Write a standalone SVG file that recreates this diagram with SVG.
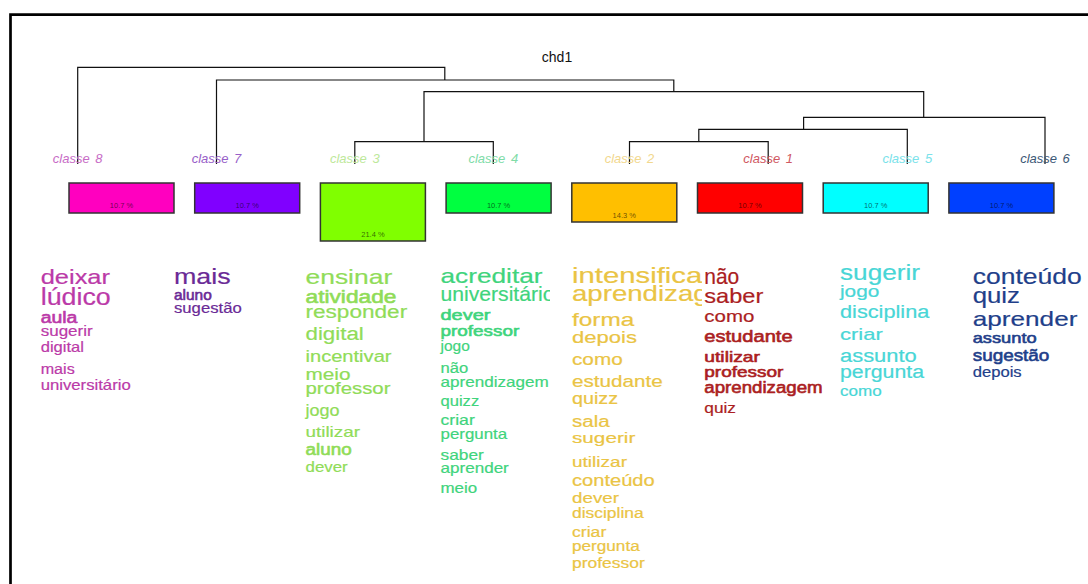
<svg xmlns="http://www.w3.org/2000/svg" width="1088" height="584" viewBox="0 0 1088 584">
<style>
text{font-family:"Liberation Sans",Arial,Helvetica,sans-serif}
.lbl{font-size:13px;font-style:italic;text-anchor:middle;word-spacing:2px}
.pct{font-size:7.5px;text-anchor:middle;fill:#000;fill-opacity:.6}
.box{stroke:#333;stroke-width:1.5}
.dl{fill:none;stroke:#111;stroke-width:1.2}
.wl text{stroke-width:.2px;stroke-linejoin:round}
.wl text.sb{stroke-width:.6px}
.w8{fill:#bb3aa8;stroke:#bb3aa8}.w7{fill:#6a2a96;stroke:#6a2a96}.w3{fill:#90dc58;stroke:#90dc58}.w4{fill:#3fd47c;stroke:#3fd47c}
.w2{fill:#eac444;stroke:#eac444}.w1{fill:#ab1e22;stroke:#ab1e22}.w5{fill:#48d6d6;stroke:#48d6d6}.w6{fill:#1f3f8a;stroke:#1f3f8a}
</style>
<defs>
<clipPath id="clip4"><rect x="0" y="0" width="550" height="584"/></clipPath>
<clipPath id="clip2"><rect x="0" y="0" width="702" height="584"/></clipPath>
</defs>
<rect width="1088" height="584" fill="#fff"/>
<path d="M10.5 584V14.7H1088" fill="none" stroke="#000" stroke-width="2.7"/>
<text x="557" y="61.5" font-size="14" text-anchor="middle" fill="#111">chd1</text>

<g id="dendrogram" class="dl">
<path d="M77.7 164V67.3H444.8V80"/>
<path d="M216.5 164V80H673.8V91.7"/>
<path d="M424 141.7V91.7H923.7V117.3"/>
<path d="M354.8 164V141.7H493.3V164"/>
<path d="M803.6 129.3V117.3H1045V164"/>
<path d="M698.8 141.7V129.3H907.3V164"/>
<path d="M629.5 164V141.7H768.2V164"/>
</g>

<g id="classe-8">
<text class="lbl" x="77.7" y="162.5" fill="#c86cc6">classe 8</text>
<rect class="box" x="69" y="183" width="105" height="30" fill="#FF00BF"/>
<text class="pct" x="121.5" y="208">10.7 %</text>
<g class="wl w8">
<text x="40.7" y="284.3" font-size="21" textLength="69.3" lengthAdjust="spacingAndGlyphs">deixar</text>
<text x="40.7" y="305" font-size="23" textLength="70" lengthAdjust="spacingAndGlyphs">lúdico</text>
<text x="40.7" y="322.7" font-size="16" class="sb" textLength="36.7" lengthAdjust="spacingAndGlyphs">aula</text>
<text x="40.7" y="336" font-size="15" textLength="52" lengthAdjust="spacingAndGlyphs">sugerir</text>
<text x="40.7" y="351.5" font-size="15" textLength="43.3" lengthAdjust="spacingAndGlyphs">digital</text>
<text x="40.7" y="373.5" font-size="14" textLength="34" lengthAdjust="spacingAndGlyphs">mais</text>
<text x="40.7" y="389.5" font-size="15" textLength="90" lengthAdjust="spacingAndGlyphs">universitário</text>
</g>
</g>

<g id="classe-7">
<text class="lbl" x="216.5" y="162.5" fill="#9860c8">classe 7</text>
<rect class="box" x="194.7" y="183" width="105" height="30" fill="#8000FF"/>
<text class="pct" x="247.2" y="208">10.7 %</text>
<g class="wl w7">
<text x="174" y="284.3" font-size="22" textLength="56.7" lengthAdjust="spacingAndGlyphs">mais</text>
<text x="174" y="300" font-size="15" class="sb" textLength="37.7" lengthAdjust="spacingAndGlyphs">aluno</text>
<text x="174" y="312.5" font-size="15" textLength="67.7" lengthAdjust="spacingAndGlyphs">sugestão</text>
</g>
</g>

<g id="classe-3">
<text class="lbl" x="354.8" y="162.5" fill="#bde89a">classe 3</text>
<rect class="box" x="320.4" y="183" width="105" height="58" fill="#80FF00"/>
<text class="pct" x="372.9" y="236.5">21.4 %</text>
<g class="wl w3">
<text x="305.5" y="284.3" font-size="21" textLength="86.7" lengthAdjust="spacingAndGlyphs">ensinar</text>
<text x="305.5" y="302.7" font-size="18" class="sb" textLength="91" lengthAdjust="spacingAndGlyphs">atividade</text>
<text x="305.5" y="317.7" font-size="18" textLength="101.7" lengthAdjust="spacingAndGlyphs">responder</text>
<text x="305.5" y="340" font-size="18" textLength="58.3" lengthAdjust="spacingAndGlyphs">digital</text>
<text x="305.5" y="361.7" font-size="16" textLength="86" lengthAdjust="spacingAndGlyphs">incentivar</text>
<text x="305.5" y="380" font-size="16" textLength="45" lengthAdjust="spacingAndGlyphs">meio</text>
<text x="305.5" y="393.5" font-size="16" textLength="85" lengthAdjust="spacingAndGlyphs">professor</text>
<text x="305.5" y="416" font-size="16" textLength="34" lengthAdjust="spacingAndGlyphs">jogo</text>
<text x="305.5" y="437.3" font-size="15" textLength="54.5" lengthAdjust="spacingAndGlyphs">utilizar</text>
<text x="305.5" y="455" font-size="16" class="sb" textLength="46.2" lengthAdjust="spacingAndGlyphs">aluno</text>
<text x="305.5" y="471.7" font-size="14" textLength="42.2" lengthAdjust="spacingAndGlyphs">dever</text>
</g>
</g>

<g id="classe-4">
<text class="lbl" x="493.3" y="162.5" fill="#80dca8">classe 4</text>
<rect class="box" x="446.1" y="183" width="105" height="30" fill="#00FF40"/>
<text class="pct" x="498.6" y="208">10.7 %</text>
<g class="wl w4" clip-path="url(#clip4)">
<text x="440.5" y="283.3" font-size="21" textLength="102" lengthAdjust="spacingAndGlyphs">acreditar</text>
<text x="440.5" y="300.5" font-size="21" textLength="114" lengthAdjust="spacingAndGlyphs">universitário</text>
<text x="440.5" y="320" font-size="15" class="sb" textLength="50" lengthAdjust="spacingAndGlyphs">dever</text>
<text x="440.5" y="336" font-size="15" class="sb" textLength="78.7" lengthAdjust="spacingAndGlyphs">professor</text>
<text x="440.5" y="351" font-size="14" textLength="29.3" lengthAdjust="spacingAndGlyphs">jogo</text>
<text x="440.5" y="373" font-size="14" textLength="27.7" lengthAdjust="spacingAndGlyphs">não</text>
<text x="440.5" y="386.7" font-size="15" textLength="108.3" lengthAdjust="spacingAndGlyphs">aprendizagem</text>
<text x="440.5" y="405.5" font-size="15" textLength="38.7" lengthAdjust="spacingAndGlyphs">quizz</text>
<text x="440.5" y="425" font-size="15" textLength="34.3" lengthAdjust="spacingAndGlyphs">criar</text>
<text x="440.5" y="439.3" font-size="15" textLength="66.7" lengthAdjust="spacingAndGlyphs">pergunta</text>
<text x="440.5" y="460" font-size="15" textLength="43.3" lengthAdjust="spacingAndGlyphs">saber</text>
<text x="440.5" y="473.3" font-size="15" textLength="68.3" lengthAdjust="spacingAndGlyphs">aprender</text>
<text x="440.5" y="493.3" font-size="14" textLength="36.7" lengthAdjust="spacingAndGlyphs">meio</text>
</g>
</g>

<g id="classe-2">
<text class="lbl" x="629.5" y="162.5" fill="#f2d88e">classe 2</text>
<rect class="box" x="571.8" y="183" width="105" height="39" fill="#FFBF00"/>
<text class="pct" x="624.3" y="217.5">14.3 %</text>
<g class="wl w2" clip-path="url(#clip2)">
<text x="572" y="283.3" font-size="22" textLength="140" lengthAdjust="spacingAndGlyphs">intensificar</text>
<text x="572" y="300.5" font-size="22" textLength="175" lengthAdjust="spacingAndGlyphs">aprendizagem</text>
<text x="572" y="326" font-size="19" textLength="62.3" lengthAdjust="spacingAndGlyphs">forma</text>
<text x="572" y="343.3" font-size="17" textLength="65" lengthAdjust="spacingAndGlyphs">depois</text>
<text x="572" y="365" font-size="16" textLength="50.7" lengthAdjust="spacingAndGlyphs">como</text>
<text x="572" y="386.7" font-size="17" textLength="90.7" lengthAdjust="spacingAndGlyphs">estudante</text>
<text x="572" y="404" font-size="16" textLength="46" lengthAdjust="spacingAndGlyphs">quizz</text>
<text x="572" y="426.7" font-size="16" textLength="37.7" lengthAdjust="spacingAndGlyphs">sala</text>
<text x="572" y="443.3" font-size="15" textLength="63.3" lengthAdjust="spacingAndGlyphs">sugerir</text>
<text x="572" y="466.7" font-size="15" textLength="55" lengthAdjust="spacingAndGlyphs">utilizar</text>
<text x="572" y="485.7" font-size="16" textLength="82.7" lengthAdjust="spacingAndGlyphs">conteúdo</text>
<text x="572" y="503.3" font-size="15" textLength="47" lengthAdjust="spacingAndGlyphs">dever</text>
<text x="572" y="518.3" font-size="14" textLength="71.7" lengthAdjust="spacingAndGlyphs">disciplina</text>
<text x="572" y="537.3" font-size="14" textLength="34.3" lengthAdjust="spacingAndGlyphs">criar</text>
<text x="572" y="550.7" font-size="14" textLength="67.7" lengthAdjust="spacingAndGlyphs">pergunta</text>
<text x="572" y="568.3" font-size="14" textLength="72.7" lengthAdjust="spacingAndGlyphs">professor</text>
</g>
</g>

<g id="classe-1">
<text class="lbl" x="768.2" y="162.5" fill="#d05862">classe 1</text>
<rect class="box" x="697.5" y="183" width="105" height="30" fill="#FF0000"/>
<text class="pct" x="750" y="208">10.7 %</text>
<g class="wl w1">
<text x="704.3" y="284.3" font-size="22" textLength="35" lengthAdjust="spacingAndGlyphs">não</text>
<text x="704.3" y="303.3" font-size="21" textLength="59" lengthAdjust="spacingAndGlyphs">saber</text>
<text x="704.3" y="321.7" font-size="16" textLength="50" lengthAdjust="spacingAndGlyphs">como</text>
<text x="704.3" y="342.3" font-size="16" class="sb" textLength="88.3" lengthAdjust="spacingAndGlyphs">estudante</text>
<text x="704.3" y="361.7" font-size="15" class="sb" textLength="55.7" lengthAdjust="spacingAndGlyphs">utilizar</text>
<text x="704.3" y="376.7" font-size="15" class="sb" textLength="79" lengthAdjust="spacingAndGlyphs">professor</text>
<text x="704.3" y="393.3" font-size="16" class="sb" textLength="118.3" lengthAdjust="spacingAndGlyphs">aprendizagem</text>
<text x="704.3" y="413.3" font-size="14" textLength="31.7" lengthAdjust="spacingAndGlyphs">quiz</text>
</g>
</g>

<g id="classe-5">
<text class="lbl" x="907.3" y="162.5" fill="#7ae2ea">classe 5</text>
<rect class="box" x="823.2" y="183" width="105" height="30" fill="#00FFFF"/>
<text class="pct" x="875.7" y="208">10.7 %</text>
<g class="wl w5">
<text x="840" y="280" font-size="22" textLength="80" lengthAdjust="spacingAndGlyphs">sugerir</text>
<text x="840" y="296.7" font-size="16" textLength="39.3" lengthAdjust="spacingAndGlyphs">jogo</text>
<text x="840" y="318.3" font-size="18" textLength="89.3" lengthAdjust="spacingAndGlyphs">disciplina</text>
<text x="840" y="340" font-size="17" textLength="42.7" lengthAdjust="spacingAndGlyphs">criar</text>
<text x="840" y="361.7" font-size="18" textLength="76.7" lengthAdjust="spacingAndGlyphs">assunto</text>
<text x="840" y="378.3" font-size="18" textLength="84" lengthAdjust="spacingAndGlyphs">pergunta</text>
<text x="840" y="396" font-size="14" textLength="41.7" lengthAdjust="spacingAndGlyphs">como</text>
</g>
</g>

<g id="classe-6">
<text class="lbl" x="1045" y="162.5" fill="#3c5876">classe 6</text>
<rect class="box" x="948.9" y="183" width="105" height="30" fill="#0040FF"/>
<text class="pct" x="1001.4" y="208">10.7 %</text>
<g class="wl w6">
<text x="972.7" y="284" font-size="22" textLength="109" lengthAdjust="spacingAndGlyphs">conteúdo</text>
<text x="972.7" y="303.3" font-size="22" textLength="47.3" lengthAdjust="spacingAndGlyphs">quiz</text>
<text x="972.7" y="326" font-size="21" textLength="104.7" lengthAdjust="spacingAndGlyphs">aprender</text>
<text x="972.7" y="343.3" font-size="15" class="sb" textLength="64" lengthAdjust="spacingAndGlyphs">assunto</text>
<text x="972.7" y="360.7" font-size="16" class="sb" textLength="76.7" lengthAdjust="spacingAndGlyphs">sugestão</text>
<text x="972.7" y="376.7" font-size="14" textLength="49" lengthAdjust="spacingAndGlyphs">depois</text>
</g>
</g>
</svg>
